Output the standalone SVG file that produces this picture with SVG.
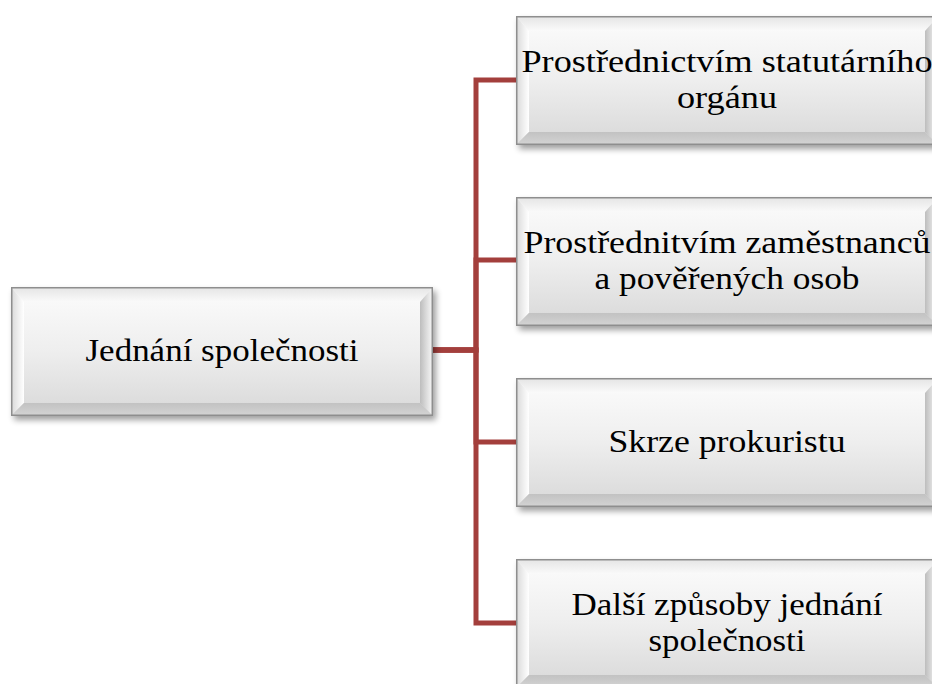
<svg xmlns="http://www.w3.org/2000/svg" xmlns:xlink="http://www.w3.org/1999/xlink" width="932" height="684" viewBox="0 0 932 684">
  <defs>
    <linearGradient id="face" x1="0" y1="0" x2="0" y2="1">
      <stop offset="0" stop-color="#fcfcfc"/>
      <stop offset="0.5" stop-color="#eeeeee"/>
      <stop offset="1" stop-color="#d8d8d8"/>
    </linearGradient>
    <linearGradient id="bTop" x1="0" y1="0" x2="0" y2="1">
      <stop offset="0" stop-color="#e4e4e4"/>
      <stop offset="1" stop-color="#fafafa"/>
    </linearGradient>
    <linearGradient id="bLeft" x1="0" y1="0" x2="1" y2="0">
      <stop offset="0" stop-color="#d8d8d8"/>
      <stop offset="0.6" stop-color="#f0f0f0"/>
      <stop offset="1" stop-color="#ffffff"/>
    </linearGradient>
    <linearGradient id="bRight" x1="0" y1="0" x2="1" y2="0">
      <stop offset="0" stop-color="#bdbdbd"/>
      <stop offset="0.6" stop-color="#e2e2e2"/>
      <stop offset="1" stop-color="#f8f8f8"/>
    </linearGradient>
    <linearGradient id="bBottom" x1="0" y1="0" x2="0" y2="1">
      <stop offset="0" stop-color="#c2c2c2"/>
      <stop offset="1" stop-color="#d4d4d4"/>
    </linearGradient>
    <filter id="shadow" x="-10%" y="-20%" width="125%" height="150%">
      <feGaussianBlur stdDeviation="3"/>
    </filter>
    <symbol id="box" viewBox="0 0 422 129" overflow="visible">
      <rect x="3" y="4" width="422" height="129" fill="#000" opacity="0.38" filter="url(#shadow)"/>
      <rect x="0" y="0" width="422" height="129" fill="url(#face)"/>
      <polygon points="0,0 422,0 409,15 13,15" fill="url(#bTop)"/>
      <polygon points="0,0 13,15 13,116 0,129" fill="url(#bLeft)"/>
      <polygon points="422,0 409,15 409,116 422,129" fill="url(#bRight)"/>
      <polygon points="0,129 13,116 409,116 422,129" fill="url(#bBottom)"/>
      <rect x="0.75" y="0.75" width="420.5" height="127.5" fill="none" stroke="#8e8e8e" stroke-width="1.5"/>
    </symbol>
  </defs>
  <style>
    .lbl { font-family: "Liberation Serif", "Times New Roman", serif; font-size: 32px; fill: #000; text-anchor: middle; }
    .conn { fill: none; stroke: #a33f3c; stroke-width: 5; stroke-linejoin: miter; stroke-linecap: butt; }
  </style>
  <rect width="932" height="684" fill="#ffffff"/>

  <g id="connectors">
    <path class="conn" d="M433,350 H476 V80 H516"/>
    <path class="conn" d="M433,350 H476 V260 H516"/>
    <path class="conn" d="M433,350 H476 V442 H516"/>
    <path class="conn" d="M433,350 H476 V623 H516"/>
  </g>

  <g id="node-root">
    <use xlink:href="#box" href="#box" x="11" y="287" width="422" height="129"/>
    <text class="lbl" x="222" y="361" textLength="273" lengthAdjust="spacingAndGlyphs">Jednání společnosti</text>
  </g>

  <g id="node-statutarni">
    <use xlink:href="#box" href="#box" x="516" y="16" width="422" height="129"/>
    <text class="lbl" x="727" y="72" textLength="411" lengthAdjust="spacingAndGlyphs">Prostřednictvím statutárního</text>
    <text class="lbl" x="727" y="108" textLength="100" lengthAdjust="spacingAndGlyphs">orgánu</text>
  </g>

  <g id="node-zamestnanci">
    <use xlink:href="#box" href="#box" x="516" y="197" width="422" height="129"/>
    <text class="lbl" x="727" y="253" textLength="407" lengthAdjust="spacingAndGlyphs">Prostřednitvím zaměstnanců</text>
    <text class="lbl" x="727" y="289" textLength="265" lengthAdjust="spacingAndGlyphs">a pověřených osob</text>
  </g>

  <g id="node-prokurista">
    <use xlink:href="#box" href="#box" x="516" y="378" width="422" height="129"/>
    <text class="lbl" x="727" y="452" textLength="237" lengthAdjust="spacingAndGlyphs">Skrze prokuristu</text>
  </g>

  <g id="node-dalsi">
    <use xlink:href="#box" href="#box" x="516" y="559" width="422" height="129"/>
    <text class="lbl" x="727" y="615" textLength="311" lengthAdjust="spacingAndGlyphs">Další způsoby jednání</text>
    <text class="lbl" x="727" y="651" textLength="157" lengthAdjust="spacingAndGlyphs">společnosti</text>
  </g>
</svg>
